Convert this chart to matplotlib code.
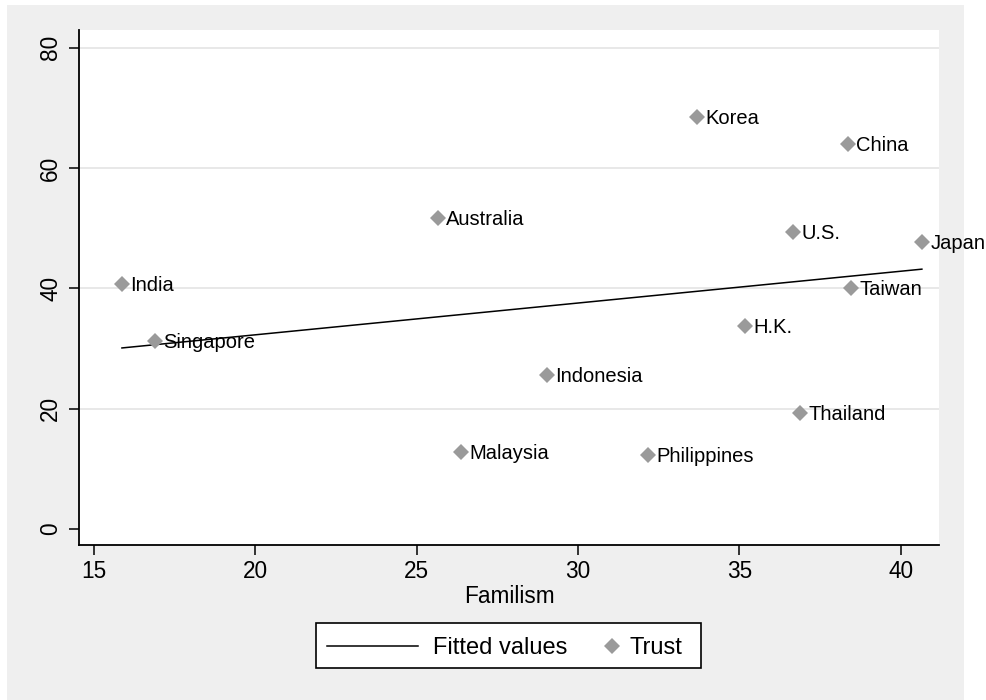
import matplotlib
matplotlib.use("Agg")
import matplotlib.pyplot as plt
from matplotlib.patches import Rectangle
from matplotlib.lines import Line2D

plt.rcParams['font.family'] = ['Liberation Sans', 'DejaVu Sans']

# Country-level familism scores and trust percentages
countries = ["India", "Singapore", "Australia", "Indonesia", "Malaysia",
             "Philippines", "Korea", "China", "U.S.", "Japan", "Taiwan",
             "H.K.", "Thailand"]
familism = [15.87, 16.89, 25.66, 29.03, 26.37, 32.16, 33.68, 38.36,
            36.65, 40.65, 38.45, 35.17, 36.87]
trust = [40.7, 31.3, 51.7, 25.6, 12.8, 12.3, 68.5, 64.0, 49.4, 47.7,
         40.1, 33.7, 19.3]

# Linear fit of trust on familism, evaluated at the range ends
fit_x = [15.87, 40.65]
fit_y = [30.1, 43.2]

x_ticks = [15, 20, 25, 30, 35, 40]
y_ticks = [0, 20, 40, 60, 80]
legend_labels = ["Fitted values", "Trust"]

W, H = 987, 700
fig = plt.figure(figsize=(W / 100, H / 100), dpi=100, facecolor="white")


def fx(px):
    return px / W


def fy(py):
    return 1 - py / H


# Graph region panel
fig.patches.append(Rectangle((fx(7), 0), (964 - 7) / W, (H - 5) / H,
                             transform=fig.transFigure, facecolor="#efefef",
                             edgecolor="none", zorder=-5))

ax = fig.add_axes([fx(79), fy(545), (939 - 79) / W, (545 - 30) / H])
ax.set_facecolor("white")

marker_color = "#9a9a9a"
line_w = 1.1
msize = 8.2
fs = 16.3

ax.plot(fit_x, fit_y, color="black", lw=line_w, zorder=3)
ax.plot(familism, trust, linestyle="none", marker="D", markersize=msize,
        color=marker_color, markeredgewidth=0, zorder=4)
for name, x, y in zip(countries, familism, trust):
    ax.annotate(name, (x, y), xytext=(6, -1.2), textcoords="offset points",
                va="center", ha="left", fontsize=14.5, color="black",
                zorder=5, annotation_clip=False)

ax.set_xlim(14.54, 41.18)
ax.set_ylim(-2.66, 82.96)
ax.set_xticks(x_ticks)
ax.set_yticks(y_ticks)
ax.set_yticklabels([str(v) for v in y_ticks], rotation=90, va="center")

for v in y_ticks[1:]:
    ax.axhline(v, color="#e6e6e6", lw=1.3, zorder=1)

for s in ["top", "right"]:
    ax.spines[s].set_visible(False)
for s in ["left", "bottom"]:
    ax.spines[s].set_linewidth(1.3)
    ax.spines[s].set_color("black")

ax.tick_params(axis="both", length=7, width=1.1, labelsize=fs, pad=4)
ax.tick_params(axis="y", pad=5)
ax.set_xlabel("Familism", fontsize=fs, labelpad=1)

# Legend box below the plot
fs_leg = 17.0
fig.patches.append(Rectangle((fx(316), fy(668)), (701 - 316) / W, (668 - 623) / H,
                             transform=fig.transFigure, facecolor="white",
                             edgecolor="black", linewidth=1.2, zorder=2))
ly = fy(645.5)
fig.add_artist(Line2D([fx(327), fx(418)], [ly, ly], color="black", lw=line_w,
                      transform=fig.transFigure, zorder=3))
fig.text(fx(433), ly, legend_labels[0], fontsize=fs_leg, va="center_baseline",
         ha="left", zorder=3)
fig.add_artist(Line2D([fx(612)], [ly], linestyle="none", marker="D",
                      markersize=msize, color=marker_color, markeredgewidth=0,
                      transform=fig.transFigure, zorder=3))
fig.text(fx(630), ly, legend_labels[1], fontsize=fs_leg, va="center_baseline",
         ha="left", zorder=3)

fig.savefig("out.png", dpi=100, facecolor="white")
